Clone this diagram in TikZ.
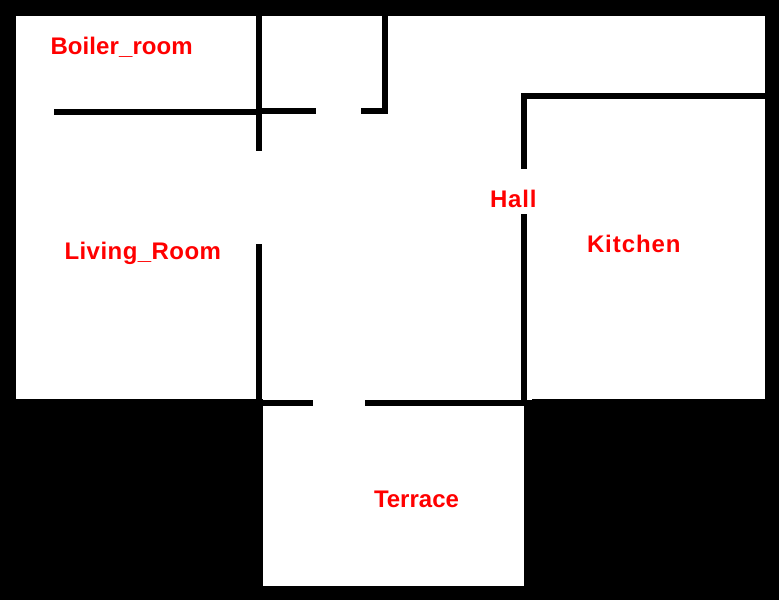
\documentclass[tikz,border=0pt]{standalone}
\usepackage{fontspec}
\setmainfont{Liberation Sans}
\tikzset{
  wall/.style={fill=black,draw=none},
  floor/.style={fill=white,draw=none},
  roomlabel/.style={text=red,anchor=base west,inner sep=0pt,outer sep=0pt,font=\fontsize{24}{28}\selectfont\bfseries}
}
\begin{document}
\begin{tikzpicture}[x=1pt,y=-1pt]
\useasboundingbox (0,0) rectangle (779,600);
\fill[black] (0,0) rectangle (779,600);
% floors
\path[floor] (16,16) rectangle (765,399);
\path[floor] (263,399) rectangle (524,586);
\path[floor] (527,399) rectangle (532,400);
% interior walls
\path[wall] (256,16) rectangle (262,151);
\path[wall] (54,109) rectangle (256,115);
\path[wall] (262,108) rectangle (316,114);
\path[wall] (361,108) rectangle (388,114);
\path[wall] (382,16) rectangle (388,114);
\path[wall] (256,244) rectangle (262,406);
\path[wall] (262,400) rectangle (313,406);
\path[wall] (365,400) rectangle (532,406);
\path[wall] (521,93) rectangle (765,99);
\path[wall] (521,93) rectangle (527,169);
\path[wall] (521,214) rectangle (527,406);
% labels
\node[roomlabel] (boiler) at (50.5,54) {\addfontfeature{LetterSpace=0.4}Boiler\_room};
\node[roomlabel] (living) at (64.5,259) {\addfontfeature{LetterSpace=1.9}Living\_Room};
\node[roomlabel] (hall) at (490,207) {\addfontfeature{LetterSpace=3.5}Hall};
\node[roomlabel] (kitchen) at (587,252) {\addfontfeature{LetterSpace=3.9}Kitchen};
\node[roomlabel] (terrace) at (374,507.5) {Terrace};
\end{tikzpicture}
\end{document}
